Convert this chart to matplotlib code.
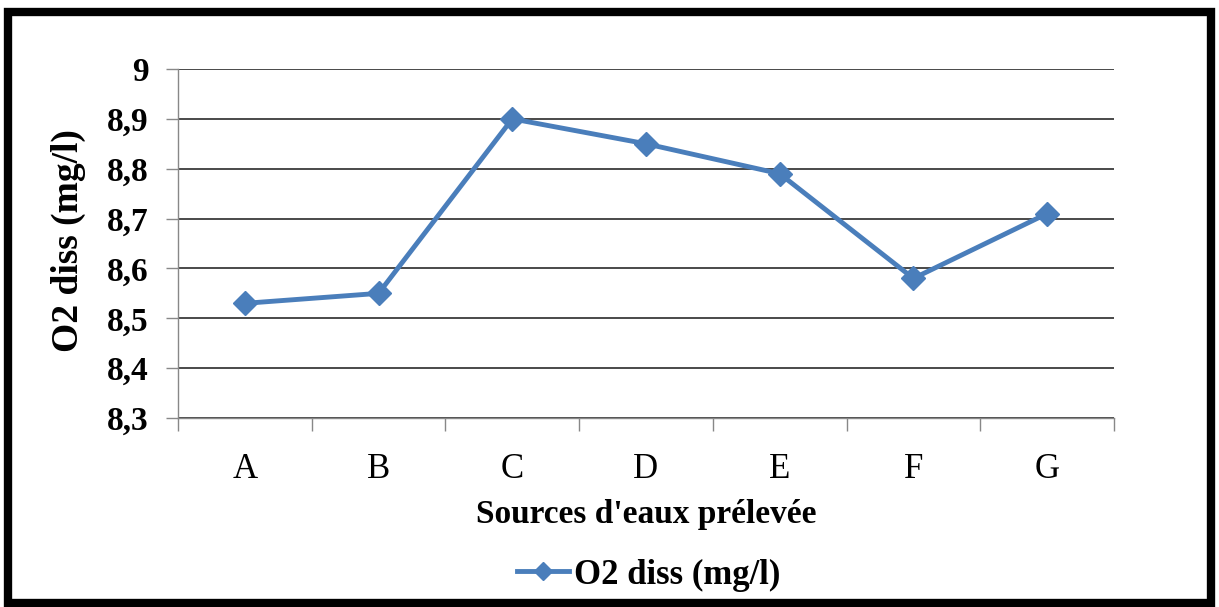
import numpy as np
import matplotlib.pyplot as plt
from matplotlib.patches import Rectangle
from matplotlib.ticker import FixedLocator, FuncFormatter

sources = ['A', 'B', 'C', 'D', 'E', 'F', 'G']
o2_diss = [8.53, 8.55, 8.90, 8.85, 8.79, 8.58, 8.71]
y_ticks = [8.3, 8.4, 8.5, 8.6, 8.7, 8.8, 8.9, 9.0]

plt.rcParams['font.family'] = ['Liberation Serif', 'DejaVu Serif']

W, H = 1219, 607
fig = plt.figure(figsize=(W / 100, H / 100), dpi=100)
ax = fig.add_axes([178 / W, 1 - 418 / H, (1114 - 178) / W, (418 - 69) / H])

x = np.arange(len(sources))
ax.plot(x, o2_diss, color='#4A7EBB', lw=3.5, marker='D', ms=12,
        label='O2 diss (mg/l)', zorder=3)

ax.set_xlim(-0.5, len(sources) - 0.5)
ax.set_ylim(8.3, 9.0)
ax.set_yticks(y_ticks)
ax.yaxis.set_major_formatter(FuncFormatter(
    lambda v, p: ('%g' % round(v, 1)).replace('.', ',')))
ax.grid(axis='y', color='#3a3a3a', lw=1.3)
ax.set_axisbelow(True)

ax.set_xticks(x)
ax.set_xticklabels(sources)
ax.xaxis.set_minor_locator(FixedLocator(np.arange(-0.5, len(sources), 1.0)))
ax.tick_params(axis='x', which='major', length=0, pad=25, labelsize=25)
ax.tick_params(axis='x', which='minor', length=9, color='#888888', width=1)
ax.tick_params(axis='y', length=9, color='#888888', width=1, pad=12)
for lab in ax.get_yticklabels():
    lab.set_fontsize(24)
    lab.set_fontweight('bold')

for side in ['top', 'right']:
    ax.spines[side].set_visible(False)
for side in ['left', 'bottom']:
    ax.spines[side].set_color('#888888')
    ax.spines[side].set_linewidth(1)

fig.text(68 / W, 1 - 241 / H, 'O2 diss (mg/l)', rotation=90, ha='center',
         va='center', fontsize=27, fontweight='bold')
fig.text(646 / W, 1 - 514 / H, "Sources d'eaux prélevée", ha='center',
         va='center', fontsize=24, fontweight='bold')

leg = fig.legend(loc='center', bbox_to_anchor=(649 / W, 1 - 575 / H),
                 frameon=False, handlelength=1.5, handletextpad=0.15,
                 markerscale=0.75, prop={'size': 25, 'weight': 'bold'})

fig.patches.append(Rectangle((8 / W, 4 / H), 1 - 16 / W, 1 - 16 / H,
                             transform=fig.transFigure, fill=False,
                             ec='black', lw=6))

fig.savefig('out.png', dpi=100)
